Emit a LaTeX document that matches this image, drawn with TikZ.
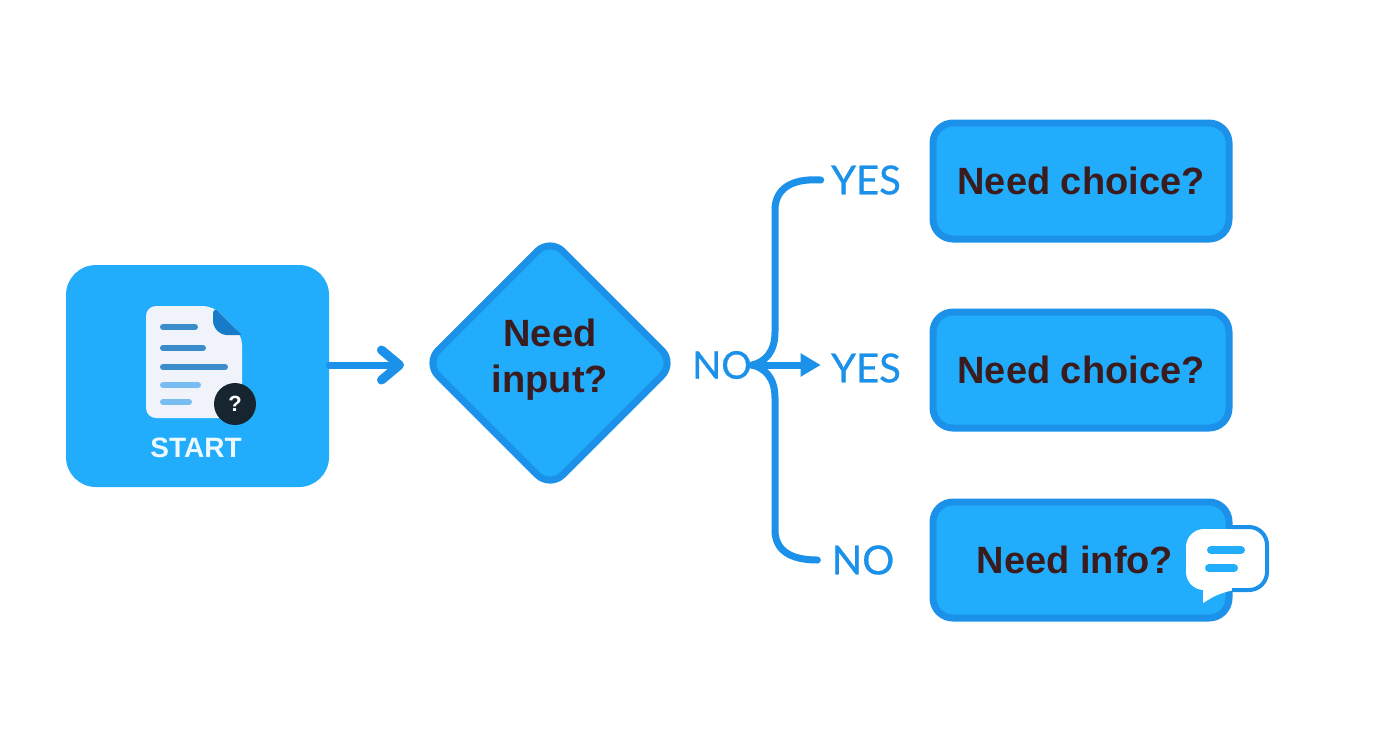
\documentclass[tikz,border=0pt]{standalone}
\usepackage{xcolor}
\usepackage{fontspec}
\setmainfont{Liberation Sans}
\newfontfamily\latofont[FakeBold=0.6]{Lato}
\usetikzlibrary{arrows.meta,shapes.geometric}
\definecolor{boxfill}{HTML}{22ADFC}
\definecolor{boxline}{HTML}{1C91EA}
\definecolor{inktext}{HTML}{3A1C1E}
\definecolor{paperfill}{HTML}{F0F4FA}
\definecolor{badgefill}{HTML}{16252F}
\newcommand{\twolines}[2]{\begin{tabular}{@{}c@{}}#1\\[1pt]#2\\[-20pt]\rule{0pt}{0pt}\end{tabular}}

\begin{document}
\begin{tikzpicture}[x=0.5pt,y=-0.5pt]
    \tikzset{choicebox/.style={draw=boxline,fill=boxfill,line width=3.5pt,rounded corners=10pt,
        minimum width=148pt,minimum height=58pt,inner sep=0pt,text=inktext,font=\fontsize{19}{23}\selectfont\bfseries},
      forklabel/.style={text=boxline,inner ysep=0pt,inner xsep=5pt,font=\fontsize{20}{23}\selectfont\latofont},
      link/.style={draw=boxline,line width=3.5pt,line cap=round},
      docline/.style={line width=3pt,line cap=round}}
\useasboundingbox (0,0) rectangle (1392,752);
\fill[white] (0,0) rectangle (1392,752);
% start
\node[fill=boxfill,rounded corners=15pt,minimum width=131.5pt,minimum height=111pt,inner sep=0pt] (startbox) at (197.5,376) {};
\node[text=white!92!boxfill,inner sep=0pt,font=\fontsize{14}{16}\selectfont\bfseries] (starttext) at (196,448) {START};
\fill[rounded corners=5pt,fill=paperfill] (213,306) -- (146,306) -- (146,418) -- (242,418) -- (242,335) -- cycle;
\fill[rounded corners=1pt,fill=boxline!85!black] (213,306) -- (242,335) -- (224,335) [rounded corners=4pt] -- (213,329) -- cycle;
\draw[docline,color=boxline!70!gray] (163,327) -- (195,327);
\draw[docline,color=boxline!70!gray] (163,348) -- (203,348);
\draw[docline,color=boxline!70!gray] (163,367) -- (225,367);
\draw[docline,color=boxline!60!white] (163,385) -- (198,385);
\draw[docline,color=boxline!60!white] (163,402) -- (189,402);
\node[circle,fill=badgefill,text=white,minimum size=21pt,inner sep=0pt,font=\fontsize{11}{12}\selectfont\bfseries] (badge) at (235,404) {?};
% decision
\node[diamond,draw=boxline,fill=boxfill,line width=3.5pt,rounded corners=9pt,minimum width=126pt,minimum height=126pt,
  inner sep=0pt,text=inktext,font=\fontsize{19}{22}\selectfont\bfseries] (inputdiamond) at (550,363) {\twolines{Need}{input?}};
\coordinate (arrowtip) at (404,365);
\draw[link,-{Straight Barb[length=9pt,width=15pt,round,line width=4.5pt]}] (startbox.east |- arrowtip) -- (arrowtip);
% outcomes
\node[choicebox] (choiceA) at (1081,181) {Need choice?};
\node[choicebox] (choiceB) at (1081,370) {Need choice?};
\node[choicebox] (infobox) at (1081,560) {\hspace*{-6pt}Need info?};
\node[forklabel,inner xsep=0pt,font=\fontsize{19}{23}\selectfont\latofont] (nofork) at (722,365) {NO};
\node[forklabel] (yesA) at (866,180) {YES};
\node[forklabel] (yesB) at (866,368) {YES};
\node[forklabel,inner xsep=7pt] (noC) at (863,560) {NO};
\draw[link] (nofork.east)..controls (765,362) and (775,352) .. (775,332) -- (775,210)..controls (775,190) and (790,178) .. (yesA.west) ;
\draw[link] (nofork.east)..controls (765,368) and (775,378) .. (775,398) -- (775,530)..controls (775,550) and (790,560) .. (noC.west) ;
\draw[link,-{Triangle[length=10pt,width=11pt]}] (nofork.east) -- (yesB.west |- nofork.east);
% speech bubble
\fill[white,rounded corners=9pt] (1186,529) -- (1267,529) -- (1267,589) -- (1226,589) [rounded corners=0pt] -- (1203,603) -- (1203,590) [rounded corners=9pt] -- (1186,590) -- cycle;
\draw[draw=boxline,line width=2pt,rounded corners=9pt] (1232,527) -- (1267,527) -- (1267,590) -- (1232,590);
\draw[line width=4pt,line cap=round,color=boxfill] (1211,550) -- (1241,550);
\draw[line width=4pt,line cap=round,color=boxfill] (1209,568) -- (1234,568);
\end{tikzpicture}
\end{document}
